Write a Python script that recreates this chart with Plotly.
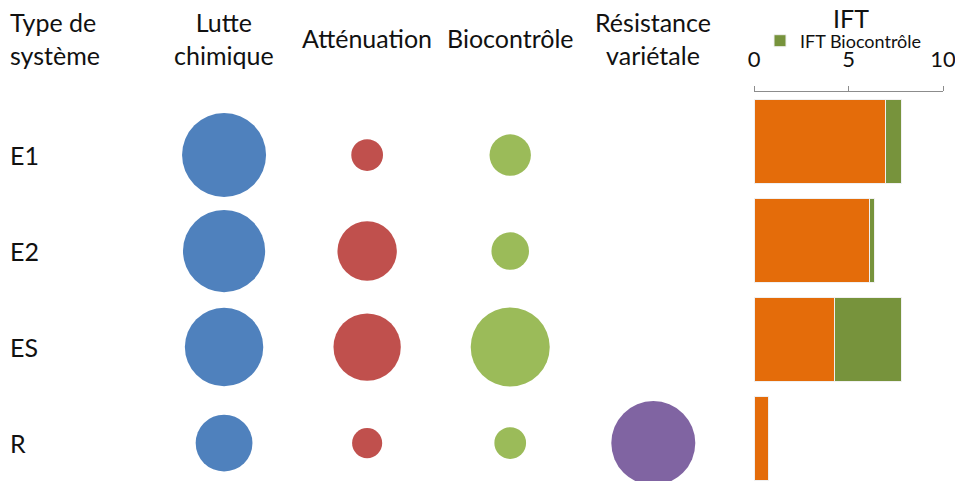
import plotly.graph_objects as go

# categories
systems = ["E1", "E2", "ES", "R"]
levers = ["Lutte chimique", "Atténuation", "Biocontrôle", "Résistance variétale"]
lever_headers = ["Lutte<br>chimique", "Atténuation", "Biocontrôle", "Résistance<br>variétale"]

# bubble values (relative weight of each lever, area-scaled)
lutte_chimique = [7.0, 6.7, 6.1, 3.2]
attenuation = [1.0, 3.5, 4.5, 0.9]
biocontrole = [1.7, 1.4, 6.2, 1.0]
resistance = [None, None, None, 7.0]

# IFT split
ift_chimique = [6.98, 6.1, 4.25, 0.76]
ift_biocontrole = [0.8, 0.29, 3.58, 0.0]
ift_ticks = [0, 5, 10]

FONT = "Lato"
W, H = 955, 481
max_val = max(v for v in lutte_chimique + attenuation + biocontrole + resistance if v)
sizeref = 2.0 * max_val / (84 ** 2)

fig = go.Figure()

bubble_sets = [
    (lutte_chimique, "#4F81BD"),
    (attenuation, "#C0504D"),
    (biocontrole, "#9BBB59"),
    (resistance, "#8064A2"),
]
for lever, (vals, color) in zip(levers, bubble_sets):
    xs = [lever for v in vals if v]
    ys = [s for s, v in zip(systems, vals) if v]
    sz = [v for v in vals if v]
    fig.add_trace(go.Scatter(
        x=xs, y=ys, mode="markers", showlegend=False,
        marker=dict(size=sz, sizemode="area", sizeref=sizeref, opacity=1,
                    color=color, line=dict(width=0)),
        xaxis="x", yaxis="y",
    ))

fig.add_trace(go.Bar(
    x=ift_chimique, y=systems, orientation="h", name="IFT chimique",
    marker=dict(color="#E46C0A", line=dict(color="#f0f0f0", width=1)),
    showlegend=False, xaxis="x2", yaxis="y2",
))
fig.add_trace(go.Bar(
    x=ift_biocontrole, y=systems, orientation="h", name="IFT Biocontrôle",
    marker=dict(color="#77933C", line=dict(color="#f0f0f0", width=1)),
    showlegend=True, xaxis="x2", yaxis="y2",
))

annotations = [
    dict(text="Type de<br>système", xref="paper", yref="paper", x=8 / W, y=1 - 38 / H,
         xanchor="left", yanchor="middle", align="left", showarrow=False),
    dict(text="IFT", xref="paper", yref="paper", x=851 / W, y=1 - 18 / H,
         xanchor="center", yanchor="middle", showarrow=False),
]
for lever, head in zip(levers, lever_headers):
    annotations.append(dict(text=head, xref="x", yref="paper", x=lever, y=1 - 38 / H,
                            xanchor="center", yanchor="middle", showarrow=False))
for s in systems:
    annotations.append(dict(text=s, xref="paper", yref="y", x=8 / W, y=s,
                            xanchor="left", yanchor="middle", showarrow=False))

hidden = dict(showgrid=False, zeroline=False, showticklabels=False,
              showline=False, automargin=False)

fig.update_layout(
    width=W, height=H,
    margin=dict(l=0, r=0, t=0, b=0, autoexpand=False),
    paper_bgcolor="white", plot_bgcolor="white",
    font=dict(family=FONT, size=25, color="#111111"),
    barmode="stack", bargap=0.16,
    xaxis=dict(domain=[0, 0.75], type="category", categoryorder="array",
               categoryarray=levers, range=[-1.566, 3.44], **hidden),
    yaxis=dict(domain=[0, 1], type="category", categoryorder="array",
               categoryarray=systems, range=[3.395, -1.615], **hidden),
    xaxis2=dict(domain=[754 / W, 943 / W], range=[0, 10], side="top", anchor="y2",
                tickvals=ift_ticks, ticks="outside", ticklen=5, tickcolor="#8c8c8c",
                showline=True, linecolor="#8c8c8c", linewidth=1,
                showgrid=False, zeroline=False, ticklabelstandoff=10,
                ticklabeloverflow="allow", automargin=False,
                tickfont=dict(size=22)),
    yaxis2=dict(domain=[0, 1 - 92 / H], type="category", categoryorder="array",
                categoryarray=systems, range=[3.43, -0.5], anchor="x2", **hidden),
    legend=dict(x=760 / W, y=1 - 41 / H, xanchor="left", yanchor="middle",
                font=dict(size=18), bgcolor="rgba(0,0,0,0)", borderwidth=0),
    annotations=annotations,
)

fig.write_html("out.html", config={"displayModeBar": False},
               post_script="document.body.style.margin='0';")
